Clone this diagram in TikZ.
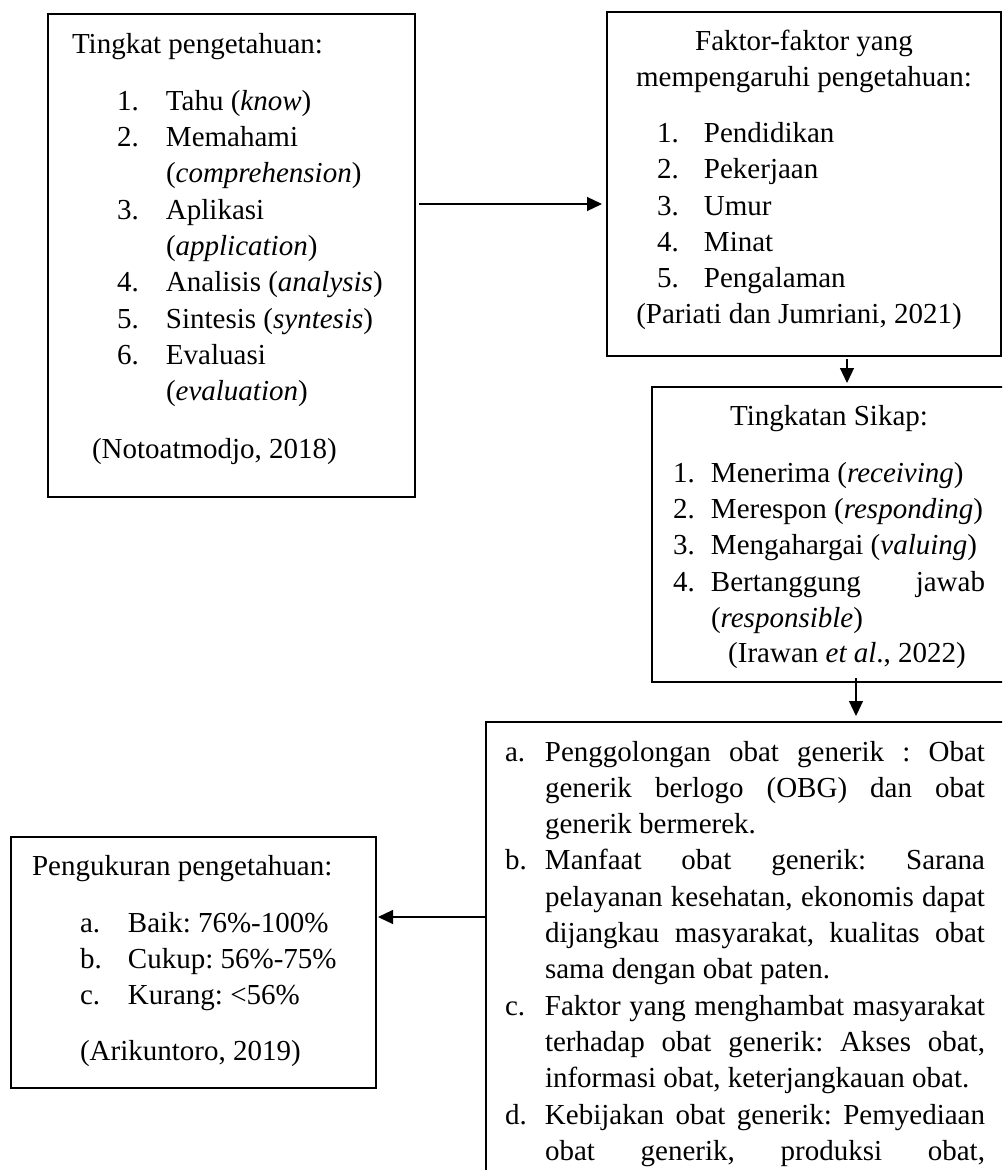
\documentclass[tikz,border=0pt]{standalone}
\usepackage{fontspec}
\setmainfont{Liberation Serif}
\usetikzlibrary{arrows.meta}
\frenchspacing
\newcommand{\cl}[1]{\makebox[\linewidth][c]{#1}}
\newcommand{\jl}[2]{\makebox[#1][s]{#2}}
\begin{document}
\begin{tikzpicture}[x=1pt,y=-1pt,
  frame/.style={draw, line width=2pt, inner sep=0pt, outer sep=0pt, anchor=north west},
  txt/.style={anchor=base west, inner sep=0pt, outer sep=0pt, font=\fontsize{29}{36.3}\selectfont},
  arr/.style={-{Triangle[length=15pt,width=14pt]}, line width=1.2pt}]
\useasboundingbox (0,0) rectangle (1002,1170);
\clip (0,0) rectangle (1002,1170);

% boxes
\node[frame, minimum width=367pt, minimum height=483pt] (b1) at (48,14) {};
\node[frame, minimum width=394pt, minimum height=344pt] (b2) at (607,12) {};
\node[frame, minimum width=360pt, minimum height=295pt] (b3) at (652,387) {};
\node[frame, minimum width=534pt, minimum height=478pt] (b4) at (486,722) {};
\node[frame, minimum width=365pt, minimum height=251pt] (b5) at (11,837) {};

% box 1 text
\node[txt] (t1) at (72,53) {\parbox[t]{340pt}{\frenchspacing
Tingkat pengetahuan:\\[21pt]
\hspace*{45pt}\makebox[49pt][l]{1.}Tahu (\textit{know})\\
\hspace*{45pt}\makebox[49pt][l]{2.}Memahami\\
\hspace*{94pt}(\textit{comprehension})\\
\hspace*{45pt}\makebox[49pt][l]{3.}Aplikasi\\
\hspace*{94pt}(\textit{application})\\
\hspace*{45pt}\makebox[49pt][l]{4.}Analisis (\textit{analysis})\\
\hspace*{45pt}\makebox[49pt][l]{5.}Sintesis (\textit{syntesis})\\
\hspace*{45pt}\makebox[49pt][l]{6.}Evaluasi\\
\hspace*{94pt}(\textit{evaluation})\\[21pt]
\hspace*{20pt}(Notoatmodjo, 2018)}};

% box 2 text
\node[txt] (t2) at (617,50) {\parbox[t]{374pt}{\frenchspacing
\cl{Faktor-faktor yang}\\
\cl{mempengaruhi pengetahuan:}\\[20pt]
\hspace*{40pt}\makebox[47pt][l]{1.}Pendidikan\\
\hspace*{40pt}\makebox[47pt][l]{2.}Pekerjaan\\
\hspace*{40pt}\makebox[47pt][l]{3.}Umur\\
\hspace*{40pt}\makebox[47pt][l]{4.}Minat\\
\hspace*{40pt}\makebox[47pt][l]{5.}Pengalaman\\[-1pt]
\cl{(Pariati dan Jumriani, 2021)\hspace*{10pt}}}};

% box 3 text
\node[txt] (t3) at (673,425) {\parbox[t]{312pt}{\frenchspacing
\cl{Tingkatan Sikap:}\\[21pt]
\makebox[38pt][l]{1.}Menerima (\textit{receiving})\\
\makebox[38pt][l]{2.}Merespon (\textit{responding})\\
\makebox[38pt][l]{3.}Mengahargai (\textit{valuing})\\
\makebox[38pt][l]{4.}\jl{274pt}{Bertanggung jawab}\\
\hspace*{38pt}(\textit{responsible})\\[-1pt]
\cl{\hspace*{36pt}(Irawan \textit{et al}., 2022)}}};

% box 4 text
\node[txt] (t4) at (505,761) {\parbox[t]{480pt}{\frenchspacing
\makebox[40pt][l]{a.}\jl{440pt}{Penggolongan obat generik : Obat}\\
\hspace*{40pt}\jl{440pt}{generik berlogo (OBG) dan obat}\\
\hspace*{40pt}generik bermerek.\\
\makebox[40pt][l]{b.}\jl{440pt}{Manfaat obat generik: Sarana}\\
\hspace*{40pt}\jl{440pt}{pelayanan kesehatan, ekonomis dapat}\\
\hspace*{40pt}\jl{440pt}{dijangkau masyarakat, kualitas obat}\\
\hspace*{40pt}sama dengan obat paten.\\
\makebox[40pt][l]{c.}\jl{440pt}{Faktor yang menghambat masyarakat}\\
\hspace*{40pt}\jl{440pt}{terhadap obat generik: Akses obat,}\\
\hspace*{40pt}informasi obat, keterjangkauan obat.\\
\makebox[40pt][l]{d.}\jl{440pt}{Kebijakan obat generik: Pemyediaan}\\
\hspace*{40pt}\jl{440pt}{obat generik, produksi obat,}}};

% box 5 text
\node[txt] (t5) at (32,875) {\parbox[t]{340pt}{\frenchspacing
Pengukuran pengetahuan:\\[21pt]
\hspace*{48pt}\makebox[48pt][l]{a.}Baik: 76\%-100\%\\
\hspace*{48pt}\makebox[48pt][l]{b.}Cukup: 56\%-75\%\\
\hspace*{48pt}\makebox[48pt][l]{c.}Kurang: <56\%\\[19pt]
\hspace*{48pt}(Arikuntoro, 2019)}};

% connectors
\coordinate (c1) at (0,204);
\coordinate (c2) at (847,0);
\coordinate (c3) at (856,0);
\coordinate (c4) at (0,917);
\draw[arr, shorten <=4pt, shorten >=5pt] (b1.east |- c1) -- (b2.west |- c1);
\draw[arr, shorten <=3pt, shorten >=4pt] (b2.south -| c2) -- (b3.north -| c2);
\draw[arr, shorten <=-4pt, shorten >=6pt] (b3.south -| c3) -- (b4.north -| c3);
\draw[arr, shorten <=1pt, shorten >=2pt] (b4.west |- c4) -- (b5.east |- c4);
\end{tikzpicture}
\end{document}
